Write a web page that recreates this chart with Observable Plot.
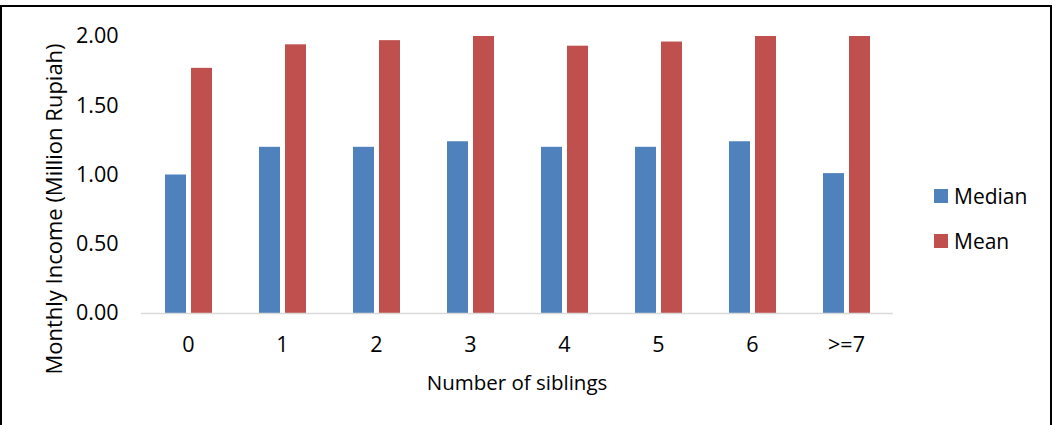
<!DOCTYPE html>
<html>
<head>
<meta charset="utf-8">
<script src="https://cdn.jsdelivr.net/npm/d3@7"></script>
<script src="https://cdn.jsdelivr.net/npm/@observablehq/plot@0.6"></script>
<style>
  html, body { margin: 0; padding: 0; background: #fff; }
  #wrap { position: relative; width: 1055px; height: 425px; overflow: hidden; font-family: "Open Sans", sans-serif; color: #000; }
  #chart { position: absolute; left: 0; top: 0; }
  #frame { position: absolute; left: 0; top: 5px; width: 1048px; height: 440px; border: 2px solid #000; pointer-events: none; }
  .t { position: absolute; line-height: 1; white-space: nowrap; }
  #ytitle { font-size: 22px; left: 53px; top: 209px; transform: translate(-50%, -50%) rotate(-90deg); }
  #xtitle { font-size: 20.5px; left: 517px; top: 372px; transform: translateX(-50%); }
  #legend { position: absolute; left: 934px; top: 186px; }
  .item { position: relative; height: 45px; font-size: 21px; line-height: 1; }
  .sw { position: absolute; left: 0; top: 3px; width: 14px; height: 14px; }
  .lab { position: absolute; left: 20px; top: 0; white-space: nowrap; }
</style>
</head>
<body>
<div id="wrap">
  <div id="chart"></div>
  <div id="frame"></div>
  <div class="t" id="ytitle">Monthly Income (Million Rupiah)</div>
  <div class="t" id="xtitle">Number of siblings</div>
  <div id="legend"></div>
</div>
<script>
const categories = ["0", "1", "2", "3", "4", "5", "6", ">=7"];
const series = ["Median", "Mean"];
const medianValues = [1.00, 1.20, 1.20, 1.24, 1.20, 1.20, 1.24, 1.01];
const meanValues = [1.77, 1.94, 1.97, 2.00, 1.93, 1.96, 2.00, 2.00];
const yTicks = [0, 0.5, 1, 1.5, 2];
const colors = ["#4F81BD", "#C0504D"];

const data = categories.flatMap((c, i) => [
  {cat: c, series: "Median", value: medianValues[i]},
  {cat: c, series: "Mean", value: meanValues[i]}
]);

const chart = Plot.plot({
  width: 1055,
  height: 425,
  marginLeft: 141,
  marginRight: 162,
  marginTop: 36,
  marginBottom: 112,
  style: {fontFamily: "Open Sans, sans-serif", fontSize: "21.5px", color: "#000", background: "transparent", overflow: "visible"},
  fx: {domain: categories, padding: 0, label: null, tickSize: 0, tickPadding: 23},
  x: {domain: series, paddingInner: 0.2, paddingOuter: 0.86, axis: null},
  y: {domain: [0, 2], ticks: yTicks, tickFormat: d => d.toFixed(2), tickSize: 0, tickPadding: 23, label: null},
  color: {domain: series, range: colors},
  marks: [
    Plot.barY(data, {fx: "cat", x: "series", y: "value", fill: "series"}),
    Plot.ruleY([0], {stroke: "#d9d9d9", strokeWidth: 1.5})
  ]
});
document.getElementById("chart").appendChild(chart);

const legend = document.getElementById("legend");
series.forEach((s, i) => {
  const item = document.createElement("div");
  item.className = "item";
  const sw = document.createElement("div");
  sw.className = "sw";
  sw.style.background = colors[i];
  const lab = document.createElement("div");
  lab.className = "lab";
  lab.textContent = s;
  item.appendChild(sw);
  item.appendChild(lab);
  legend.appendChild(item);
});
</script>
</body>
</html>
